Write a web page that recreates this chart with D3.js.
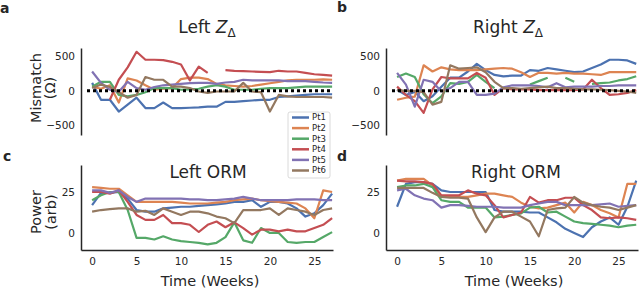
<!DOCTYPE html>
<html>
<head>
<meta charset="utf-8">
<script src="https://cdn.jsdelivr.net/npm/d3@7"></script>
<style>
  body { margin: 0; background: #fff; }
  svg text { font-family: "DejaVu Sans", sans-serif; fill: #262626; }
</style>
</head>
<body>
<svg id="chart"></svg>
<script>
// x values (weeks) shared by every panel
const weeks = [0, 1, 2, 3, 4, 5, 6, 7, 8, 9, 10, 11, 12, 13,
               14, 15, 16, 17, 18, 19, 20, 21, 22, 23, 24, 25, 26, 27];
const patients = ["Pt1", "Pt2", "Pt3", "Pt4", "Pt5", "Pt6"];
const colours = ["#4c72b0", "#dd8452", "#55a868", "#c44e52", "#8172b3", "#937860"];

const zTicks = [-500, 0, 500];
const powerTicks = [0, 25];
const weekTicks = [0, 5, 10, 15, 20, 25];

// a: Left Z mismatch (ohm), one row per patient
const leftZ = [
  [115, -130, -130, -300, -200, -100, -250, -250, -170, -250, -250, -245, -240, -230, -230, -160, -160, -150, -140, -130, -130, -90, -80, -70, -60, -50, -50, -50],
  [60, 30, 80, -170, 180, 150, 80, 15, 30, 40, 170, 190, 190, 170, 100, 80, 70, 60, 70, 90, 110, 130, 150, 160, 160, 160, 165, 160],
  [60, 130, 130, -60, -80, -60, -20, 40, 40, 40, 15, 20, 30, 60, 80, 60, 15, 15, 15, 30, 40, 40, 40, 50, 60, 60, 60, 60],
  [null, null, -130, 160, 340, 565, 450, 450, 445, 420, 380, 150, 350, 260, null, 300, 290, 285, 280, 275, 270, 290, 280, 280, 260, 240, 230, 220],
  [280, 115, 15, -15, 130, 40, 15, 55, 80, 90, 100, 110, 115, 115, 100, 120, 130, 160, 150, 150, 150, 150, 140, 140, 140, 130, 120, 115],
  [40, 90, 55, -20, -100, -60, 200, 160, 160, 60, 60, 40, -10, -30, -10, -10, -10, 115, -10, -20, -300, -60, -80, -90, -90, -90, -90, -100]
];

// b: Right Z mismatch (ohm)
const rightZ = [
  [15, -60, -15, -150, -80, 60, 190, 190, 280, 390, 300, 230, 210, 220, 220, 300, 290, 330, 310, 290, 270, 280, 330, 380, 450, 450, 440, 390],
  [-130, -100, -85, 370, 280, 340, 310, 300, 300, 300, 310, 320, 330, 320, 270, 200, 260, 260, 250, 260, 250, 250, 240, 230, 270, 270, 270, 270],
  [200, 250, 200, -50, -180, -80, 110, 100, 130, 230, 130, 40, null, null, null, 90, 140, 190, null, 190, 130, null, 100, 110, 120, 150, 170, 210],
  [60, -60, -150, -320, 20, 200, 180, 180, 180, 260, 190, -60, 40, 20, 20, 20, 10, 10, 10, 10, 10, 20, 160, 40, -60, -50, -30, 10],
  [260, 90, -230, 160, 130, -10, 40, 130, 130, -60, -60, -40, 50, 80, 80, 80, 70, 50, 110, 50, 60, 60, 60, 70, 70, 80, 80, 80],
  [10, 0, 0, -20, -200, -160, 370, 320, 330, 340, 270, 130, 40, 40, 30, 40, 50, 60, 40, 40, 30, 20, 20, 15, 10, 0, -10, -30]
];

// c: Left ORM power (arb)
const leftORM = [
  [17, 24.5, 24.5, 25, 21, 14, 13, 13, 15, 15.5, 16, 16, 16.5, 17, 17.5, 18, 19, 19, 20, 16, 19, 19, 18, 15, 10, 12, 17, 24],
  [28, 27.5, 27, 27, 23, 19, 19, 19, 19, 19, 18.5, 18, 18, 18, 18.5, 19, 20, 20.5, 21, 20, 19.5, 19, 18.5, 18, 15, 9, 26, 25],
  [20, 23, 25, 25, 14, -3, -3, -4, -2, -4, -5, -5.5, -6, -7, -6, -2.5, 6.5, -4.5, -6, 3, 0, 0, -5.5, -6, -5.5, -5.5, -2.5, 0.5],
  [25, 25, 24, 26, 19, 11, 8, 8, 11, 6, 6, 5, 0.6, 5, 7, 3.5, 6.5, 3, -1, 2, 2, 1, 2, 1, 1, 3, 5, 9],
  [26, 26, 24.5, 26, 22, 19, 21, 21, 21, 21, 21, 20.5, 20.5, 20, 20, 20.5, 21, 22, 21, 20, 20, 20, 20, 20.5, 20.5, 20.5, 20, 20],
  [13, 14, 14.5, 15, 15, 13, 13.5, 11, 15, 13, 11, 13, 13, 12, 10, 9, 6, 14, 14, 14, 15, 11, 15, 14, 13, 11, 14, 15]
];

// d: Right ORM power (arb)
const rightORM = [
  [16, 30, 31, 31, 30, 26, 25, 25, 25, 25, 25, 14, 13, 13, 13, 12.5, 12.5, 9.5, 6.5, 2.5, 0, -2.5, 3.5, 7, 9.5, 5, 16, 32],
  [32, 33, 33, 33, 29, 22, 22, 22, 22, 23, 24, 24, 23, 22, 18.5, 16, 15, 15.5, 17, 18.5, 12.5, 19, 17, 14, 12, 9.5, 30, 30],
  [28, 29, 29, 30, 28, 20, 19, 19, 15.5, 15.5, 15.5, 9.5, 10, 11, 12, 15.5, 16, 12.5, 13, 10, 7, 6, 5.5, 5, 4.5, 3.5, 4.5, 5],
  [32, 31.5, 31.5, 31, 30, 23, 23, 23, 26, 24, 23, 17, 9.5, 11, 12.5, 22, 18.5, 20, 20, 21.5, 21.5, 17, 14, 9.5, 9, 9.5, 9, 8],
  [26, 27, 23, 21, 20, 15.5, 17, 17, 16.5, 16, 16, 16, 15.5, 15.5, 15.5, 17, 18, 19, 19, 17, 17, 17, 17, 17.5, 18, 16, 16.5, 17],
  [27.5, 27.5, 27.5, 27.5, 24.5, 22, 21.5, 21.5, 21, 9.5, 0.5, 9.5, 13, 13, 10, 7, -2, 14, 15, 15.5, 22, 18.5, 17, 16, 15.5, 14, 15.5, 17]
];

const width = 640, height = 290;
const ink = "#262626";

const svg = d3.select("#chart")
    .attr("width", width)
    .attr("height", height);

function drawPanel(p) {
  const x = d3.scaleLinear().domain(p.xDomain).range([p.left, p.right]);
  const y = d3.scaleLinear().domain(p.yDomain).range([p.bottom, p.top]);

  const yAxis = svg.append("g")
      .attr("transform", `translate(${p.left},0)`)
      .call(d3.axisLeft(y).tickValues(p.yTicks).tickSize(0).tickPadding(6));
  yAxis.select(".domain").attr("stroke", ink).attr("stroke-width", 1.5);
  yAxis.selectAll("text").style("font-size", "10.5px").attr("fill", ink);

  if (p.xAxis) {
    const xAxis = svg.append("g")
        .attr("transform", `translate(0,${p.bottom})`)
        .call(d3.axisBottom(x).tickValues(weekTicks).tickSize(0).tickPadding(8));
    xAxis.select(".domain").attr("stroke", ink).attr("stroke-width", 1.5);
    xAxis.selectAll("text").style("font-size", "10.5px").attr("fill", ink);
  }

  const line = d3.line()
      .defined(d => d[1] != null)
      .x(d => x(d[0]))
      .y(d => y(d[1]));

  svg.append("g")
    .selectAll("path")
    .data(p.data)
    .enter()
    .append("path")
      .attr("d", row => line(row.map((v, i) => [weeks[i], v])))
      .attr("fill", "none")
      .attr("stroke", (d, i) => colours[i])
      .attr("stroke-width", 2.2)
      .attr("stroke-linejoin", "round");

  // dotted zero reference
  if (p.zeroLine) {
    svg.append("line")
      .attr("x1", p.left + 6)
      .attr("x2", p.right)
      .attr("y1", y(0))
      .attr("y2", y(0))
      .attr("stroke", "#000")
      .attr("stroke-width", 3)
      .attr("stroke-dasharray", "3,3");
  }

  const title = svg.append("text")
      .attr("x", p.titleX)
      .attr("y", p.titleY)
      .attr("text-anchor", "middle")
      .style("font-size", "17px");
  title.append("tspan").text(p.title);
  if (p.zTitle) {
    title.append("tspan").text(" ");
    title.append("tspan").style("font-style", "italic").text("Z");
    title.append("tspan").attr("dy", 4).style("font-size", "12px").text("Δ");
  }

  svg.append("text")
      .attr("x", p.letterX)
      .attr("y", p.letterY)
      .style("font-size", "14px")
      .style("font-weight", "bold")
      .attr("fill", "#000")
      .text(p.letter);
}

function yLabel(lines, cy, baselines) {
  lines.forEach((t, i) => {
    svg.append("text")
      .attr("transform", `translate(${baselines[i]},${cy}) rotate(-90)`)
      .attr("text-anchor", "middle")
      .style("font-size", "14.5px")
      .text(t);
  });
}

function xLabel(cx) {
  svg.append("text")
    .attr("x", cx)
    .attr("y", 286)
    .attr("text-anchor", "middle")
    .style("font-size", "14.5px")
    .text("Time (Weeks)");
}

const leftX = [-1.25, 27.1], rightX = [-1.25, 27.2];

drawPanel({data: leftZ, left: 81, right: 333, top: 48, bottom: 135, xDomain: leftX,
           yDomain: [-640, 620], yTicks: zTicks, zeroLine: true, title: "Left", zTitle: true,
           titleX: 207, titleY: 33, letter: "a", letterX: 0, letterY: 13});
drawPanel({data: rightZ, left: 386, right: 638, top: 48, bottom: 135, xDomain: rightX,
           yDomain: [-640, 620], yTicks: zTicks, zeroLine: true, title: "Right", zTitle: true,
           titleX: 508, titleY: 33, letter: "b", letterX: 337, letterY: 12});
drawPanel({data: leftORM, left: 81, right: 333, top: 165, bottom: 250, xDomain: leftX,
           yDomain: [-10.4, 41.5], yTicks: powerTicks, xAxis: true, title: "Left ORM",
           titleX: 208, titleY: 178, letter: "c", letterX: 3, letterY: 161});
drawPanel({data: rightORM, left: 386, right: 638, top: 165, bottom: 250, xDomain: rightX,
           yDomain: [-10.4, 41.5], yTicks: powerTicks, xAxis: true, title: "Right ORM",
           titleX: 516, titleY: 178, letter: "d", letterX: 337, letterY: 161});

yLabel(["Mismatch", "(Ω)"], 88, [41, 55]);
yLabel(["Power", "(arb)"], 212, [41, 56]);
xLabel(210);
xLabel(514);

// legend
const legend = svg.append("g").attr("transform", "translate(288,112)");
legend.append("rect")
    .attr("width", 42)
    .attr("height", 66)
    .attr("rx", 2)
    .attr("fill", "#fff")
    .attr("stroke", "#d0d0d0")
    .attr("stroke-width", 0.8);

const item = legend.selectAll(".item")
    .data(patients)
    .enter()
    .append("g")
    .attr("class", "item")
    .attr("transform", (d, i) => `translate(0,${5.5 + i * 10.6})`);

item.append("line")
    .attr("x1", 4)
    .attr("x2", 21)
    .attr("stroke", (d, i) => colours[i])
    .attr("stroke-width", 2.5);

item.append("text")
    .attr("x", 24)
    .attr("dy", "0.35em")
    .style("font-size", "8.5px")
    .text(d => d);
</script>
</body>
</html>
